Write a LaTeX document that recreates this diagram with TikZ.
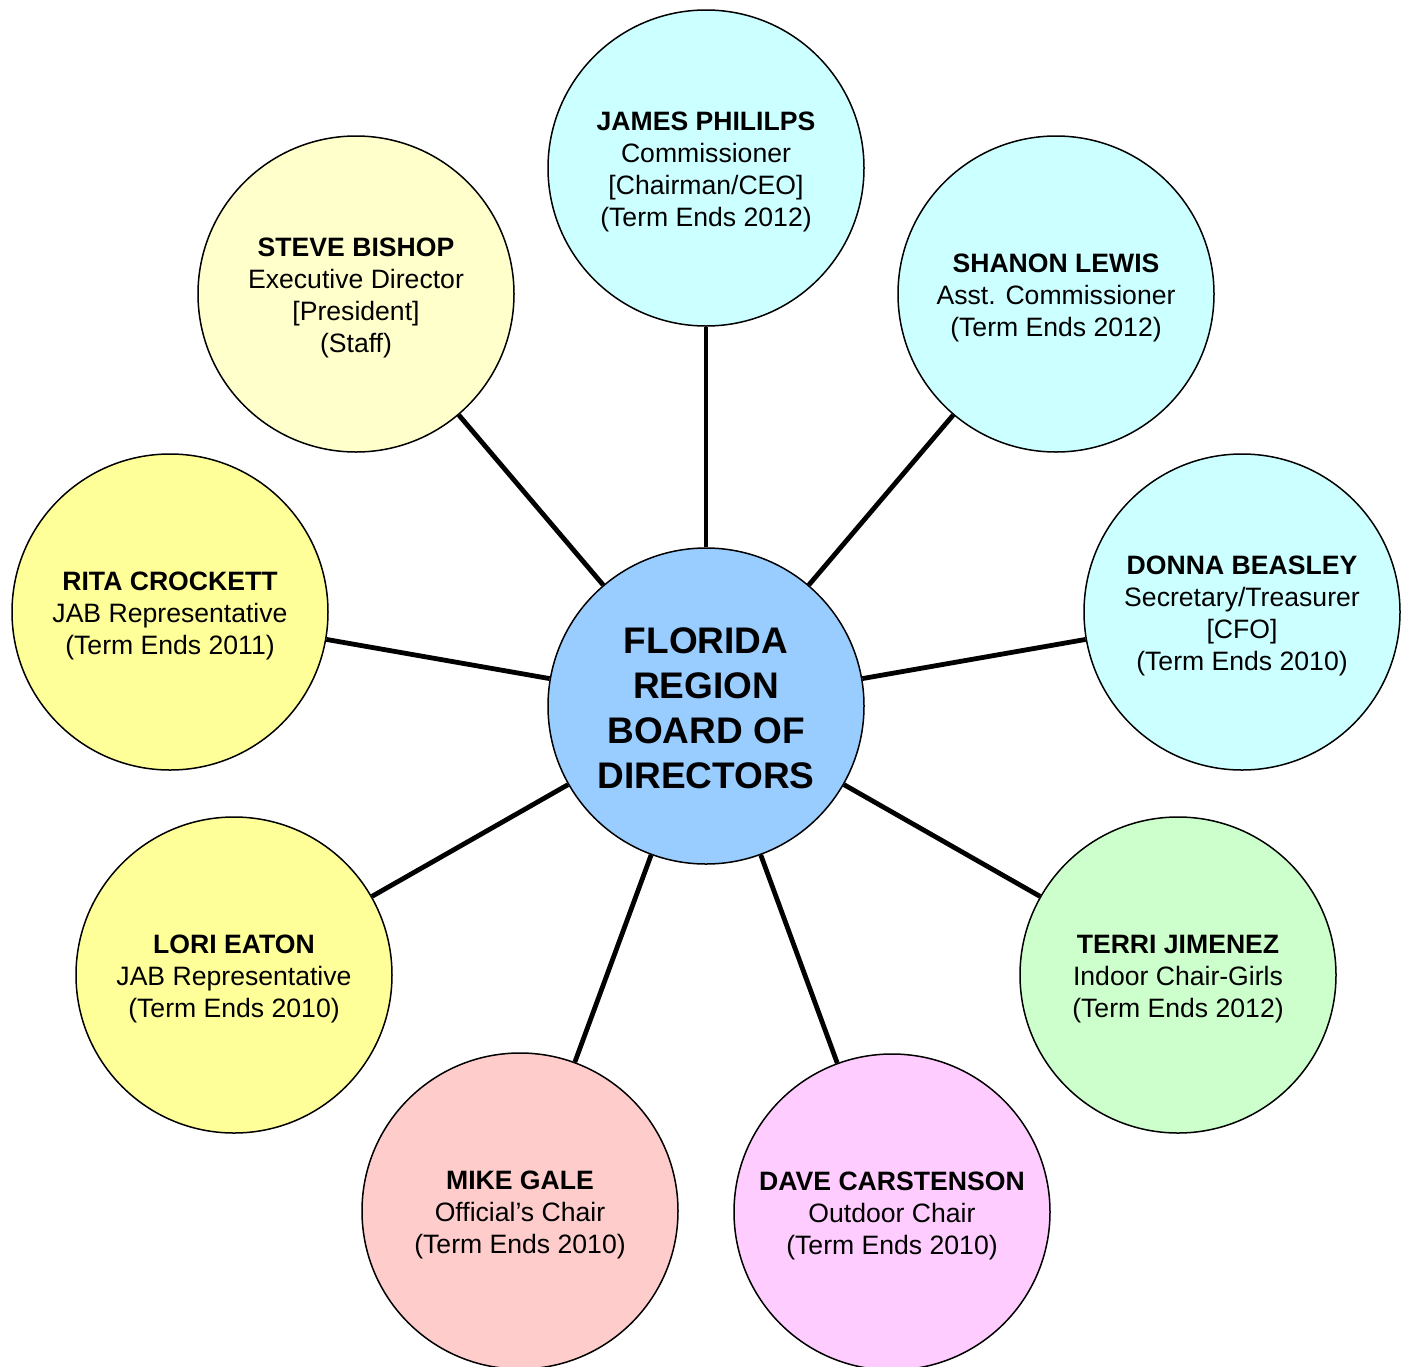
\documentclass[tikz,border=0pt]{standalone}
\usepackage{fontspec}
\setmainfont{Liberation Sans}
\definecolor{cyanish}{HTML}{CCFFFF}
\definecolor{paleyellow}{HTML}{FFFFCC}
\definecolor{yellowish}{HTML}{FFFF99}
\definecolor{pinkish}{HTML}{FFCCCC}
\definecolor{magentaish}{HTML}{FFCCFF}
\definecolor{greenish}{HTML}{CCFFCC}
\definecolor{centerblue}{HTML}{99CCFF}
\tikzset{
  disc/.style={circle, draw=black, line width=1.5pt, minimum size=316pt, inner sep=0pt},
  memtext/.style={align=center, inner sep=0pt, font=\fontsize{26.6}{32}\selectfont, yshift=-4pt},
  hubtext/.style={align=center, inner sep=0pt, font=\fontsize{37}{45}\selectfont\bfseries, yshift=-2pt},
  link/.style={line width=4.8pt, black}
}
\begin{document}
\begin{tikzpicture}[x=1pt,y=-1pt]
\useasboundingbox (0,0) rectangle (1408,1366);
\node[disc, fill=centerblue] (c) at (706,706) {};
\node[hubtext] (ct) at (c.center) {FLORIDA\\REGION\\BOARD OF\\DIRECTORS};
\node[disc, fill=cyanish] (jp) at (706,168) {};
\node[memtext] (jpt) at (jp.center) {\textbf{JAMES PHILILPS}\\Commissioner\\{[}Chairman/CEO{]}\\(Term Ends 2012)};
\node[disc, fill=cyanish] (sl) at (1056,294) {};
\node[memtext] (slt) at (sl.center) {\textbf{SHANON LEWIS}\\Asst. Commissioner\\(Term Ends 2012)};
\node[disc, fill=cyanish] (db) at (1242,612) {};
\node[memtext] (dbt) at (db.center) {\textbf{DONNA BEASLEY}\\Secretary/Treasurer\\{[}CFO{]}\\(Term Ends 2010)};
\node[disc, fill=greenish] (tj) at (1178,975) {};
\node[memtext] (tjt) at (tj.center) {\textbf{TERRI JIMENEZ}\\Indoor Chair-Girls\\(Term Ends 2012)};
\node[disc, fill=magentaish] (dc) at (892,1212) {};
\node[memtext] (dct) at (dc.center) {\textbf{DAVE CARSTENSON}\\Outdoor Chair\\(Term Ends 2010)};
\node[disc, fill=pinkish] (mg) at (520,1211) {};
\node[memtext] (mgt) at (mg.center) {\textbf{MIKE GALE}\\Official’s Chair\\(Term Ends 2010)};
\node[disc, fill=yellowish] (le) at (234,975) {};
\node[memtext] (let) at (le.center) {\textbf{LORI EATON}\\JAB Representative\\(Term Ends 2010)};
\node[disc, fill=yellowish] (rc) at (170,612) {};
\node[memtext] (rct) at (rc.center) {\textbf{RITA CROCKETT}\\JAB Representative\\(Term Ends 2011)};
\node[disc, fill=paleyellow] (sb) at (356,294) {};
\node[memtext] (sbt) at (sb.center) {\textbf{STEVE BISHOP}\\Executive Director\\{[}President{]}\\(Staff)};
\foreach \n in {jp,sl,db,tj,dc,mg,le,rc,sb}
  \draw[link] (c) -- (\n);
\end{tikzpicture}
\end{document}
